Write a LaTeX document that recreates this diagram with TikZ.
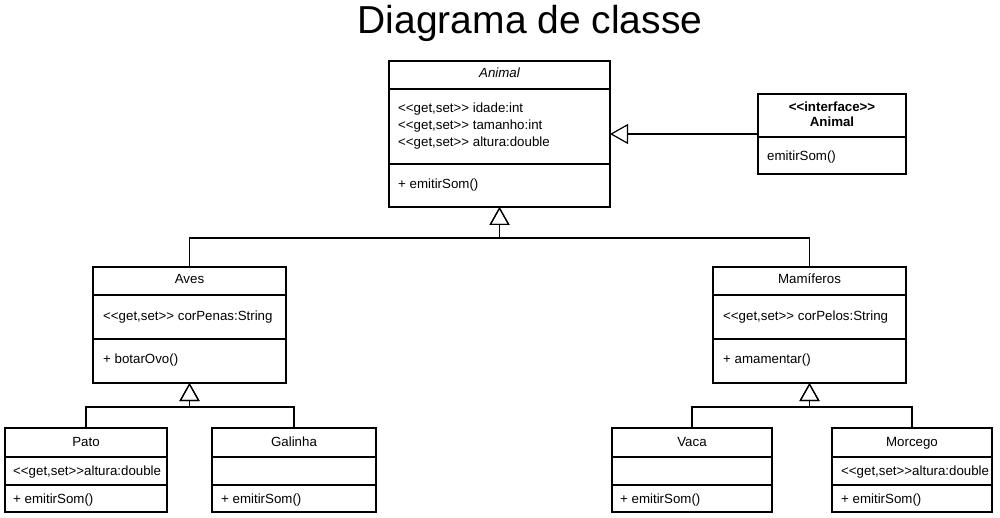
\documentclass[tikz,border=0pt]{standalone}
\usepackage{fontspec}
\setmainfont{Liberation Sans}[Ligatures=TeXOff]
\usetikzlibrary{arrows.meta,calc}
\begin{document}
\begin{tikzpicture}[x=1pt,y=-1pt,
 classbox/.style={draw,line width=1.2pt,anchor=north west,inner sep=0,outer sep=0},
 lbl/.style={anchor=base west,inner sep=0,font=\fontsize{13.3}{17}\selectfont},
 ctr/.style={anchor=base,inner sep=0,font=\fontsize{13.3}{17}\selectfont},
 gen/.style={line width=1.2pt,-{Triangle[open,length=18pt,width=20pt]}},
 divline/.style={line width=1.2pt}]
\useasboundingbox (0,0) rectangle (1000,518);

\node[anchor=base,inner sep=0,font=\fontsize{39}{44}\selectfont] (title) at (530,34) {Diagrama de classe};

% Animal
\node[classbox,minimum width=221pt,minimum height=146pt] (animal) at (389,61) {};
\draw[divline] ([yshift=-28pt]animal.north west) -- ([yshift=-28pt]animal.north east);
\draw[divline] ([yshift=-103pt]animal.north west) -- ([yshift=-103pt]animal.north east);
\node[ctr,font=\fontsize{13.3}{17}\selectfont\itshape] (animalT) at (499.5,77.5) {Animal};
\node[lbl] (animalA1) at (398,112.5) {<<get,set>> idade:int};
\node[lbl] (animalA2) at (398,129.5) {<<get,set>> tamanho:int};
\node[lbl] (animalA3) at (398,146.5) {<<get,set>> altura:double};
\node[lbl] (animalM) at (398,188.5) {+ emitirSom()};

% Interface
\node[classbox,minimum width=148pt,minimum height=80pt] (iface) at (758,94) {};
\draw[divline] ([yshift=-43pt]iface.north west) -- ([yshift=-43pt]iface.north east);
\node[ctr,font=\fontsize{13.3}{17}\selectfont\bfseries] (ifaceT1) at (832,111.5) {<<interface>>};
\node[ctr,font=\fontsize{13.3}{17}\selectfont\bfseries] (ifaceT2) at (832,126.5) {Animal};
\node[lbl] (ifaceM) at (767,160.5) {emitirSom()};

% Aves
\node[classbox,minimum width=193pt,minimum height=116pt] (aves) at (93,267) {};
\draw[divline] ([yshift=-28pt]aves.north west) -- ([yshift=-28pt]aves.north east);
\draw[divline] ([yshift=-72pt]aves.north west) -- ([yshift=-72pt]aves.north east);
\node[ctr] (avesT) at (189.5,283.5) {Aves};
\node[lbl] (avesA) at (103,320.5) {<<get,set>> corPenas:String};
\node[lbl] (avesM) at (103,363.5) {+ botarOvo()};

% Mamiferos
\node[classbox,minimum width=193pt,minimum height=116pt] (mam) at (713,267) {};
\draw[divline] ([yshift=-28pt]mam.north west) -- ([yshift=-28pt]mam.north east);
\draw[divline] ([yshift=-72pt]mam.north west) -- ([yshift=-72pt]mam.north east);
\node[ctr] (mamT) at (809.5,283.5) {Mamíferos};
\node[lbl] (mamA) at (723,320.5) {<<get,set>> corPelos:String};
\node[lbl] (mamM) at (723,363.5) {+ amamentar()};

% Pato
\node[classbox,minimum width=162pt,minimum height=84pt] (pato) at (5,428) {};
\draw[divline] ([yshift=-29pt]pato.north west) -- ([yshift=-29pt]pato.north east);
\draw[divline] ([yshift=-57pt]pato.north west) -- ([yshift=-57pt]pato.north east);
\node[ctr] (patoT) at (86,446.5) {Pato};
\node[lbl] (patoA) at (13,475.5) {<<get,set>>altura:double};
\node[lbl] (patoM) at (13,503.5) {+ emitirSom()};

% Galinha
\node[classbox,minimum width=164pt,minimum height=84pt] (gal) at (212,428) {};
\draw[divline] ([yshift=-29pt]gal.north west) -- ([yshift=-29pt]gal.north east);
\draw[divline] ([yshift=-57pt]gal.north west) -- ([yshift=-57pt]gal.north east);
\node[ctr] (galT) at (294,446.5) {Galinha};
\node[lbl] (galM) at (221,503.5) {+ emitirSom()};

% Vaca
\node[classbox,minimum width=160pt,minimum height=84pt] (vaca) at (612,428) {};
\draw[divline] ([yshift=-29pt]vaca.north west) -- ([yshift=-29pt]vaca.north east);
\draw[divline] ([yshift=-57pt]vaca.north west) -- ([yshift=-57pt]vaca.north east);
\node[ctr] (vacaT) at (692,446.5) {Vaca};
\node[lbl] (vacaM) at (620,503.5) {+ emitirSom()};

% Morcego
\node[classbox,minimum width=160pt,minimum height=84pt] (morc) at (832,428) {};
\draw[divline] ([yshift=-29pt]morc.north west) -- ([yshift=-29pt]morc.north east);
\draw[divline] ([yshift=-57pt]morc.north west) -- ([yshift=-57pt]morc.north east);
\node[ctr] (morcT) at (912,446.5) {Morcego};
\node[lbl] (morcA) at (841,475.5) {<<get,set>>altura:double};
\node[lbl] (morcM) at (841,503.5) {+ emitirSom()};

% Connectors
\coordinate (jAnimal) at ($(animal.south)+(0,31)$);
\coordinate (jAves) at ($(aves.south)+(0,24)$);
\coordinate (jMam) at ($(mam.south)+(0,24)$);
\draw[gen] (iface.west) -- (animal.east);
\draw[gen] (aves.north) |- (jAnimal) -- (animal.south);
\draw[gen] (mam.north) |- (jAnimal) -- (animal.south);
\draw[gen] (pato.north) |- (jAves) -- (aves.south);
\draw[gen] (gal.north) |- (jAves) -- (aves.south);
\draw[gen] (vaca.north) |- (jMam) -- (mam.south);
\draw[gen] (morc.north) |- (jMam) -- (mam.south);
\end{tikzpicture}
\end{document}
